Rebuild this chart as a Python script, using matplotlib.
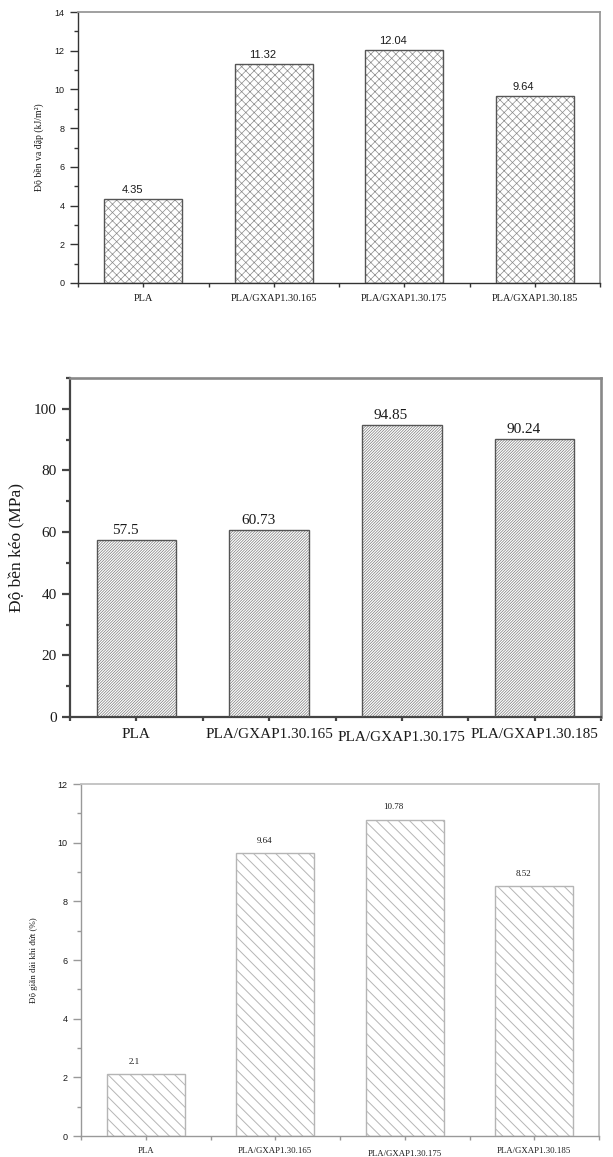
#!/usr/bin/env python3
"""Three bar charts: impact strength, tensile strength, elongation at break."""

import numpy as np
import matplotlib
matplotlib.use('Agg')
import matplotlib.pyplot as plt
from matplotlib.ticker import MultipleLocator


# =============================================================================
# Data
# =============================================================================

categories = ["PLA", "PLA/GXAP1.30.165", "PLA/GXAP1.30.175", "PLA/GXAP1.30.185"]

impact_values = [4.35, 11.32, 12.04, 9.64]        # kJ/m2
tensile_values = [57.5, 60.73, 94.85, 90.24]      # MPa
elongation_values = [2.1, 9.64, 10.78, 8.52]      # %

impact_labels = ["4.35", "11.32", "12.04", "9.64"]
tensile_labels = ["57.5", "60.73", "94.85", "90.24"]
elongation_labels = ["2.1", "9.64", "10.78", "8.52"]

SERIF = ['Liberation Serif', 'DejaVu Serif']
SANS = ['Liberation Sans', 'DejaVu Sans']


def draw_panel(ax, values, labels, ylabel, ylim, major, minor, hatch,
               edge, hatch_col, hatch_lw, spine_dark, spine_light, spine_lw,
               tick_font, tick_size, xlab_size, ylab_size, val_font, val_size,
               val_offset, label_pad_175, ylabel_pad):
    x = np.arange(len(categories))
    with plt.rc_context({'hatch.linewidth': hatch_lw, 'hatch.color': hatch_col}):
        bars = ax.bar(x, values, 0.6, color='white', edgecolor=hatch_col,
                      hatch=hatch, linewidth=0, zorder=2)
        # outline drawn separately so the hatch can be lighter than the edge
        ax.bar(x, values, 0.6, color='none', edgecolor=edge, linewidth=1.0, zorder=3)
    for b in bars:
        if hasattr(b, 'set_hatch_linewidth'):
            b.set_hatch_linewidth(hatch_lw)

    ax.set_xlim(-0.5, 3.5)
    ax.set_ylim(*ylim)

    for side in ('left', 'bottom'):
        ax.spines[side].set_color(spine_dark)
        ax.spines[side].set_linewidth(spine_lw)
    for side in ('top', 'right'):
        ax.spines[side].set_color(spine_light)
        ax.spines[side].set_linewidth(spine_lw + 0.3)

    ax.yaxis.set_major_locator(MultipleLocator(major))
    ax.yaxis.set_minor_locator(MultipleLocator(minor))
    ax.set_xticks(x)
    ax.set_xticks([-0.5, 0.5, 1.5, 2.5, 3.5], minor=True)
    ax.set_xticklabels(categories, family=SERIF, fontsize=xlab_size)
    for lab in ax.get_yticklabels():
        lab.set_family(tick_font)
        lab.set_fontsize(tick_size)

    ax.tick_params(axis='both', which='both', direction='out', colors=spine_dark,
                   labelcolor='#1a1a1a', top=False, right=False)
    ax.tick_params(axis='y', which='major', length=6, width=spine_lw)
    ax.tick_params(axis='y', which='minor', length=3, width=spine_lw)
    ax.tick_params(axis='x', which='both', length=3, width=spine_lw)
    ax.tick_params(axis='x', which='major', pad=5)
    ax.xaxis.get_major_ticks()[2].set_pad(5 + label_pad_175)

    ax.set_ylabel(ylabel, family=SERIF, fontsize=ylab_size, labelpad=ylabel_pad,
                  color='#1a1a1a')

    for bar, txt in zip(bars, labels):
        ax.annotate(txt, xy=(bar.get_x() + bar.get_width() / 2, bar.get_height()),
                    xytext=(-8, val_offset), textcoords='offset points',
                    ha='center', va='bottom', family=val_font, fontsize=val_size,
                    color='#1a1a1a')


fig = plt.figure(figsize=(6.13, 11.57), dpi=100)
W, H = 613.0, 1157.0

# panel 1: impact strength
ax1 = fig.add_axes([78 / W, 1 - 283 / H, 522 / W, 271 / H])
draw_panel(ax1, impact_values, impact_labels, "Độ bền va đập (kJ/m²)",
           (0, 14), 2, 1, 'xxxx', '#555555', '#8a8a8a', 0.5, '#333333', '#999999', 1.0,
           SANS, 6.5, 7.5, 7, SANS, 8, 3, 0, 8)

# panel 2: tensile strength
ax2 = fig.add_axes([70 / W, 1 - 717 / H, 531 / W, 339 / H])
draw_panel(ax2, tensile_values, tensile_labels, "Độ bền kéo (MPa)",
           (0, 110), 20, 10, '/' * 12, '#555555', '#7a7a7a', 0.5, '#444444', '#888888', 1.6,
           SERIF, 11, 11, 12.5, SERIF, 11, 2, 2, 6)

# panel 3: elongation at break
ax3 = fig.add_axes([81 / W, 1 - 1136 / H, 518 / W, 352 / H])
draw_panel(ax3, elongation_values, elongation_labels, "Độ giãn dài khi đứt (%)",
           (0, 12), 2, 1, '\\\\\\', '#b5b5b5', '#b5b5b5', 0.7, '#999999', '#c0c0c0', 1.0,
           SANS, 6.5, 6.3, 6.5, SERIF, 6.5, 6, 2, 14)

fig.savefig("out.png", dpi=100)
plt.close(fig)
